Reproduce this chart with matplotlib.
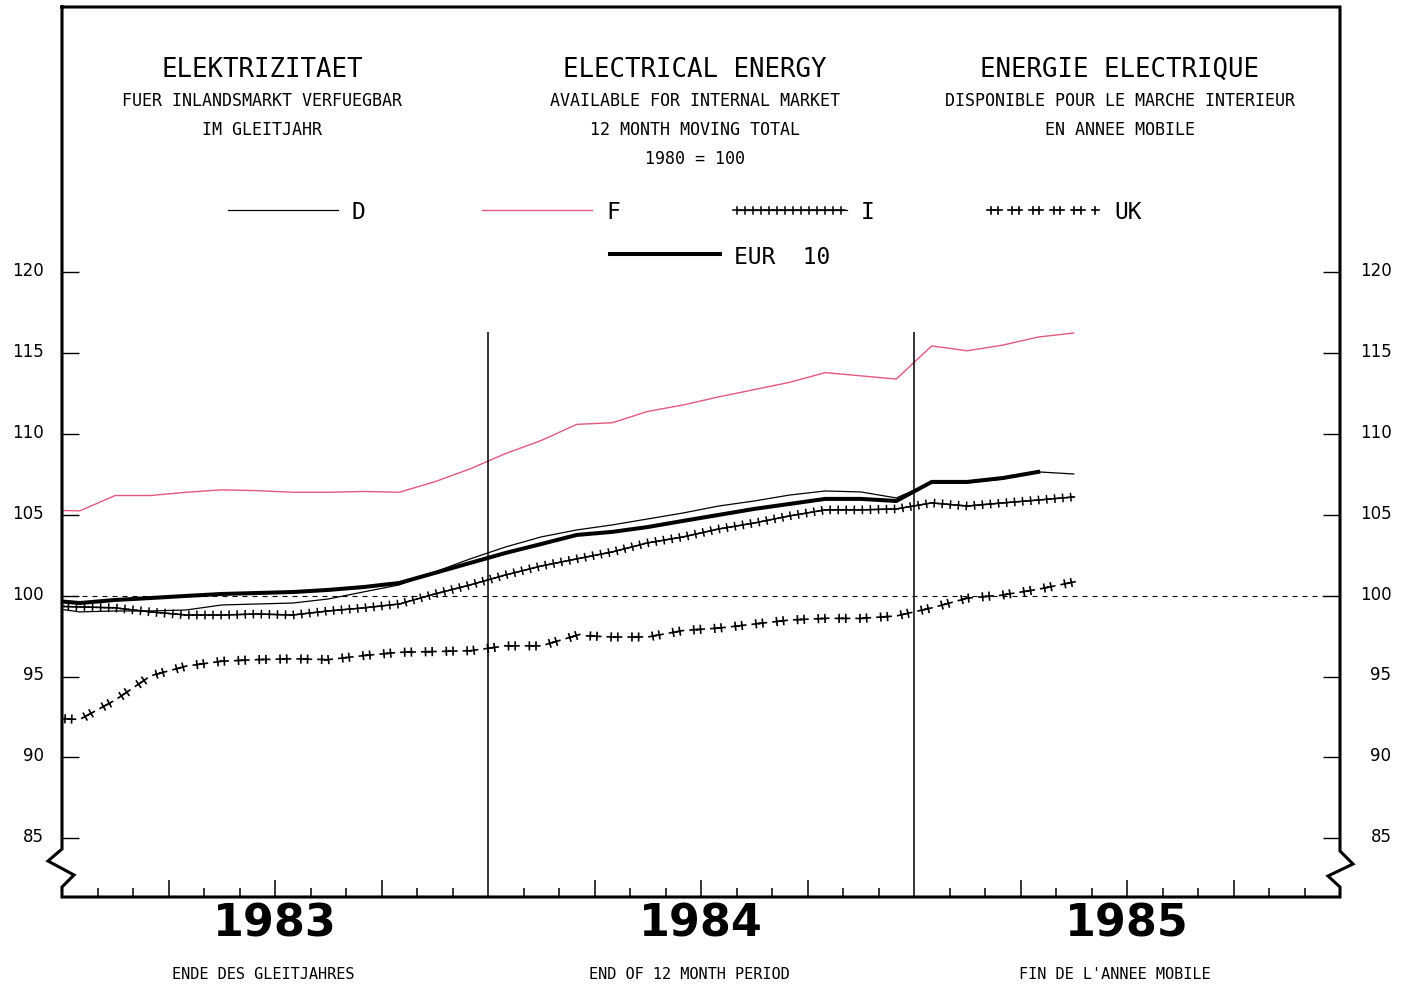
import numpy as np
import pandas as pd
import matplotlib
matplotlib.use("Agg")
import matplotlib.pyplot as plt
from matplotlib.patheffects import AbstractPathEffect
from matplotlib.path import Path
from matplotlib.transforms import Affine2D, ScaledTranslation
from matplotlib.lines import Line2D

# 12 month moving totals, 1980 = 100 (Dec 1982 .. May 1985)
months = pd.period_range("1982-12", "1985-05", freq="M")

d_vals = [99.31, 99.0, 99.06, 99.06, 99.12, 99.43, 99.49, 99.55, 99.8, 100.24,
          100.67, 101.47, 102.28, 103.02, 103.64, 104.07, 104.38, 104.75, 105.12, 105.55,
          105.86, 106.23, 106.48, 106.42, 106.05, 106.98, 106.98, 107.22, 107.66, 107.53]
f_vals = [105.3, 105.25, 106.2, 106.2, 106.4, 106.55, 106.5, 106.4, 106.4, 106.45,
          106.4, 107.05, 107.85, 108.8, 109.6, 110.6, 110.7, 111.4, 111.8, 112.3,
          112.75, 113.2, 113.8, 113.6, 113.4, 115.45, 115.15, 115.5, 116.0, 116.25]
i_vals = [99.37, 99.31, 99.25, 99.0, 98.81, 98.81, 98.87, 98.81, 99.06, 99.25,
          99.49, 100.11, 100.67, 101.29, 101.84, 102.28, 102.71, 103.27, 103.64, 104.13,
          104.5, 104.94, 105.31, 105.31, 105.37, 105.74, 105.55, 105.74, 105.92, 106.11]
uk_vals = [92.45, 92.35, 93.55, 95.05, 95.65, 95.95, 96.05, 96.1, 96.05, 96.3,
           96.5, 96.55, 96.6, 96.9, 96.9, 97.55, 97.45, 97.45, 97.85, 98.0,
           98.25, 98.5, 98.6, 98.6, 98.75, 99.25, 99.85, 100.05, 100.4, 100.85]
eur_vals = [99.74, 99.55, 99.74, 99.86, 99.99, 100.11, 100.17, 100.23, 100.36, 100.54,
            100.79, 101.41, 102.03, 102.65, 103.2, 103.76, 103.95, 104.25, 104.63, 105.0,
            105.37, 105.68, 105.99, 105.99, 105.86, 107.04, 107.04, 107.28, 107.66, np.nan]

years = [1983, 1984, 1985]
yticks = [85, 90, 95, 100, 105, 110, 115, 120]
titles = [
    ["ELEKTRIZITAET", "FUER INLANDSMARKT VERFUEGBAR", "IM GLEITJAHR"],
    ["ELECTRICAL ENERGY", "AVAILABLE FOR INTERNAL MARKET", "12 MONTH MOVING TOTAL", "1980 = 100"],
    ["ENERGIE ELECTRIQUE", "DISPONIBLE POUR LE MARCHE INTERIEUR", "EN ANNEE MOBILE"],
]
period_labels = ["ENDE DES GLEITJAHRES", "END OF 12 MONTH PERIOD", "FIN DE L'ANNEE MOBILE"]

PINK = "#e5587f"
MONO = "DejaVu Sans Mono"


class PlusChain(AbstractPathEffect):
    """Draw small '+' marks along a line at a repeating spacing (plotter style)."""

    def __init__(self, period, offsets=(0.0,), half=2.5, lw=1.0, base=True):
        super().__init__()
        self.period = period
        self.offsets = offsets
        self.half = half
        self.lw = lw
        self.base = base

    def draw_path(self, renderer, gc, tpath, affine, rgbFace=None):
        if self.base:
            renderer.draw_path(gc, tpath, affine, rgbFace)
        pts = affine.transform(tpath.vertices)
        pts = pts[np.isfinite(pts).all(axis=1)]
        if len(pts) < 2:
            return
        seg = np.diff(pts, axis=0)
        seglen = np.hypot(seg[:, 0], seg[:, 1])
        ok = seglen > 0
        pts = np.vstack([pts[:1], pts[1:][ok]])
        seg, seglen = seg[ok], seglen[ok]
        if len(seg) == 0:
            return
        cum = np.concatenate([[0.0], np.cumsum(seglen)])
        p2px = renderer.points_to_pixels(1.0)
        starts = np.arange(0.0, cum[-1], self.period * p2px)
        s = np.sort(np.concatenate([starts + o * p2px for o in self.offsets]))
        s = s[s <= cum[-1]]
        xs = np.interp(s, cum, pts[:, 0])
        ys = np.interp(s, cum, pts[:, 1])
        idx = np.clip(np.searchsorted(cum, s, side="right") - 1, 0, len(seg) - 1)
        ux = seg[idx, 0] / seglen[idx]
        uy = seg[idx, 1] / seglen[idx]
        h = self.half * p2px
        verts = []
        for x0, y0, a, b in zip(xs, ys, ux, uy):
            verts += [(x0 - a * h, y0 - b * h), (x0 + a * h, y0 + b * h),
                      (x0 + b * h, y0 - a * h), (x0 - b * h, y0 + a * h)]
        if not verts:
            return
        codes = [Path.MOVETO, Path.LINETO] * (2 * len(xs))
        gc0 = renderer.new_gc()
        gc0.copy_properties(gc)
        gc0.set_linewidth(self.lw)
        gc0.set_dashes(0, None)
        renderer.draw_path(gc0, Path(verts, codes), Affine2D())
        gc0.restore()


W, H = 1409, 987
fig = plt.figure(figsize=(W / 100, H / 100), dpi=100)
ax = fig.add_axes([62 / W, 89 / H, 1278 / W, 890 / H])

x = (months.year - years[0]) * 12 + months.month - 0.5

ax.axhline(100, color="black", lw=0.8, dashes=[4.5, 4.5])
ax.plot(x, f_vals, color=PINK, lw=1.0, label="F")
ax.plot(x, uk_vals, color="black", lw=0.9, label="UK",
        path_effects=[PlusChain(15.0, offsets=(0.0, 4.8), half=2.7, lw=1.2, base=False)])
ax.plot(x, i_vals, color="black", lw=0.9, label="I",
        path_effects=[PlusChain(5.8, half=2.6, lw=1.1)])
ax.plot(x, d_vals, color="black", lw=0.9, label="D")
ax.plot(x, eur_vals, color="black", lw=2.9, label="EUR  10", solid_joinstyle="round")

ax.set_xlim(0, 36)
ax.set_ylim(81.37, 136.41)

# year boundaries
ax.vlines([12, 24], 81.37, 116.3, color="black", lw=1.1)

for sp in ax.spines.values():
    sp.set_visible(False)

# frame with axis breaks near the bottom
fx = lambda px: (px - 62) / 1278
fy = lambda py: (898 - py) / 890
frame = [(62, 8), (62, 850), (48, 862), (74, 876), (62, 888), (62, 898),
         (1340, 898), (1340, 888), (1328, 877), (1353, 865), (1340, 852), (1340, 8), (62, 8)]
ax.add_line(Line2D([fx(p[0]) for p in frame], [fy(p[1]) for p in frame],
                   transform=ax.transAxes, color="black", lw=2.2, clip_on=False,
                   solid_joinstyle="miter"))

# ticks
ax.set_xticks([3, 6, 9, 15, 18, 21, 27, 30, 33])
ax.set_xticks([1, 2, 4, 5, 7, 8, 10, 11, 13, 14, 16, 17, 19, 20, 22, 23,
               25, 26, 28, 29, 31, 32, 34, 35], minor=True)
ax.tick_params(axis="x", which="major", direction="in", length=12, width=1.1, labelbottom=False)
ax.tick_params(axis="x", which="minor", direction="in", length=6.5, width=1.1, labelbottom=False)

ax.set_yticks(yticks)
ax.set_yticklabels([str(v) for v in yticks])
ax.tick_params(axis="y", direction="in", length=12.5, width=1.0, labelsize=12,
               left=True, right=True, labelleft=True, labelright=True, pad=13)
up = ScaledTranslation(0, 3 / 72, fig.dpi_scale_trans)
for t in ax.yaxis.get_major_ticks():
    t.label1.set_transform(t.label1.get_transform() + up)
    t.label2.set_transform(t.label2.get_transform() + ScaledTranslation(24 / 72, 3 / 72, fig.dpi_scale_trans))
    t.label2.set_horizontalalignment("right")

# titles
cols = [262, 695, 1120]
for cx, lines in zip(cols, titles):
    fig.text(cx / W, 1 - 70 / H, lines[0], ha="center", va="center", fontsize=18.5, family=MONO)
    for j, txt in enumerate(lines[1:]):
        fig.text(cx / W, 1 - (101 + 29 * j) / H, txt, ha="center", va="center",
                 fontsize=12, family=MONO)

# legend
hs = {h.get_label(): h for h in ax.get_lines()}
leg1 = fig.legend([hs["D"], hs["F"], hs["I"], hs["UK"]], ["D", "F", "I", "UK"],
                  ncol=4, loc="center left", bbox_to_anchor=(228 / W, 1 - 213 / H),
                  frameon=False, prop={"family": MONO, "size": 16.5}, handlelength=4.8,
                  handletextpad=0.6, columnspacing=5.1, borderpad=0, borderaxespad=0)
leg2 = fig.legend([hs["EUR  10"]], ["EUR  10"], loc="center left",
                  bbox_to_anchor=(610 / W, 1 - 257 / H), frameon=False,
                  prop={"family": MONO, "size": 16.5},
                  handlelength=4.8, handletextpad=0.6, borderpad=0, borderaxespad=0)

# year labels and footer
for k, yr in enumerate(years):
    cx = ax.transData.transform((k * 12 + 6, 100))[0] / W
    fig.text(cx, 1 - 924 / H, str(yr), ha="center", va="center", fontsize=32, fontweight="bold")
    fig.text(cx - 12 / W, 1 - 975 / H, period_labels[k], ha="center", va="center",
             fontsize=11, family=MONO)

fig.savefig("out.png", dpi=100)
